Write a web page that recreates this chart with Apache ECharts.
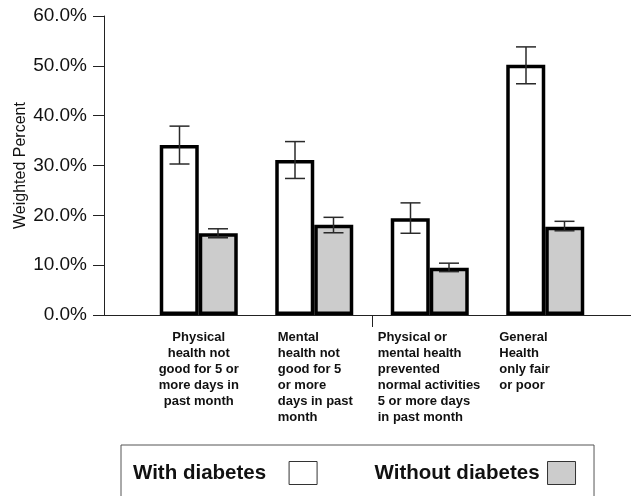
<!DOCTYPE html>
<html>
<head>
<meta charset="utf-8">
<script src="https://cdn.jsdelivr.net/npm/echarts@6/dist/echarts.min.js"></script>
<style>
  html, body { margin: 0; padding: 0; background: #ffffff; }
  #chart { width: 631px; height: 496px; }
</style>
</head>
<body>
<div id="chart"></div>
<script>
// Health indicators, weighted percent with 95% confidence limits
const categories = [
  ['Physical', 'health not', 'good for 5 or', 'more days in', 'past month'],
  ['Mental', 'health not', 'good for 5', 'or more', 'days in past', 'month'],
  ['Physical or', 'mental health', 'prevented', 'normal activities', '5 or more days', 'in past month'],
  ['General', 'Health', 'only fair', 'or poor']
];
const seriesNames = ['With diabetes', 'Without diabetes'];
const withDiabetes = [34.1, 31.1, 19.4, 50.2];
const withDiabetesLow = [30.3, 27.4, 16.4, 46.4];
const withDiabetesHigh = [37.9, 34.8, 22.5, 53.8];
const withoutDiabetes = [16.4, 18.1, 9.5, 17.7];
const withoutDiabetesLow = [15.5, 16.5, 8.7, 16.9];
const withoutDiabetesHigh = [17.3, 19.6, 10.4, 18.8];
const yTicks = [0, 10, 20, 30, 40, 50, 60];

// rich style key for each category label block
const labelStyleKeys = ['c', 'l2', 'l3', 'l4'];

const chart = echarts.init(document.getElementById('chart'), null, { renderer: 'canvas' });

const BAR_W = 39;
const HALF = 19.25;

function errorSeries(name, low, high, shift) {
  return {
    type: 'custom',
    name: name + ' CI',
    z: 5,
    silent: true,
    xAxisIndex: 0,
    data: low.map((l, i) => [i, l, high[i]]),
    encode: { x: 0, y: [1, 2] },
    renderItem: function (params, api) {
      const lo = api.coord([api.value(0), api.value(1)]);
      const hi = api.coord([api.value(0), api.value(2)]);
      const x = lo[0] + shift;
      const cap = 10;
      const st = { stroke: '#2a2a2a', lineWidth: 1.5 };
      return {
        type: 'group',
        children: [
          { type: 'line', shape: { x1: x, y1: lo[1], x2: x, y2: hi[1] }, style: st },
          { type: 'line', shape: { x1: x - cap, y1: lo[1], x2: x + cap, y2: lo[1] }, style: st },
          { type: 'line', shape: { x1: x - cap, y1: hi[1], x2: x + cap, y2: hi[1] }, style: st }
        ]
      };
    }
  };
}

const labelBase = { fontWeight: 'bold', fontSize: 13, lineHeight: 16, color: '#111' };

const option = {
  backgroundColor: '#ffffff',
  animation: false,
  textStyle: { fontFamily: 'Arial, "Liberation Sans", sans-serif' },
  grid: { left: 141, right: 28, top: 16, bottom: 181, containLabel: false },
  xAxis: [
    {
      type: 'category',
      data: categories.map((c, i) => i),
      boundaryGap: true,
      axisLine: { lineStyle: { color: '#222', width: 1 } },
      axisTick: { show: false },
      axisLabel: {
        interval: 0,
        margin: 14,
        color: '#111',
        fontWeight: 'bold',
        fontSize: 13,
        lineHeight: 16,
        align: 'center',
        formatter: function (v, idx) {
          const key = labelStyleKeys[idx];
          return categories[idx].map(s => '{' + key + '|' + s + '}').join('\n');
        },
        rich: {
          c: Object.assign({ width: 110, align: 'center' }, labelBase),
          l2: Object.assign({ width: 73, align: 'left' }, labelBase),
          l3: Object.assign({ width: 104, align: 'left' }, labelBase),
          l4: Object.assign({ width: 92, align: 'left' }, labelBase)
        }
      },
      splitLine: { show: false }
    },
    {
      // divider tick between the two pairs of categories
      type: 'value',
      position: 'bottom',
      min: 0,
      max: categories.length,
      axisLine: { show: false },
      axisLabel: { show: false },
      splitLine: { show: false },
      axisTick: { show: true, length: 12, customValues: [categories.length / 2], lineStyle: { color: '#222' } }
    }
  ],
  yAxis: {
    type: 'value',
    min: yTicks[0],
    max: yTicks[yTicks.length - 1],
    interval: 10,
    offset: 37,
    name: 'Weighted Percent',
    nameLocation: 'middle',
    nameGap: 75,
    nameMoveOverlap: false,
    nameTextStyle: { fontSize: 16, color: '#111' },
    axisLine: { show: true, onZero: false, lineStyle: { color: '#222', width: 1 } },
    axisTick: { show: true, length: 11, lineStyle: { color: '#222' } },
    axisLabel: { fontSize: 19, color: '#111', margin: 17, formatter: v => v.toFixed(1) + '%' },
    splitLine: { show: false }
  },
  legend: {
    left: 121,
    top: 445,
    orient: 'horizontal',
    align: 'right',
    padding: [16, 18, 20, 12],
    borderColor: '#555',
    borderWidth: 1,
    itemWidth: 28,
    itemHeight: 23,
    itemGap: 57,
    icon: 'rect',
    itemStyle: { borderWidth: 1, borderColor: '#333' },
    textStyle: { fontSize: 20.5, fontWeight: 'bold', color: '#111' },
    data: [
      { name: seriesNames[0], textStyle: { padding: [0, 18, 0, 0] } },
      { name: seriesNames[1], textStyle: { padding: [0, 3, 0, 0] } }
    ]
  },
  graphic: [
    // baseline continues past the category band on both sides
    { type: 'line', z: 1, shape: { x1: 104, y1: 315.5, x2: 631, y2: 315.5 }, style: { stroke: '#222', lineWidth: 1 } }
  ],
  series: [
    {
      type: 'bar',
      name: seriesNames[0],
      data: withDiabetes,
      barWidth: BAR_W,
      barGap: '0%',
      itemStyle: { color: '#ffffff', borderColor: '#000', borderWidth: 3.5 }
    },
    {
      type: 'bar',
      name: seriesNames[1],
      data: withoutDiabetes,
      barWidth: BAR_W,
      barGap: '0%',
      itemStyle: { color: '#cccccc', borderColor: '#000', borderWidth: 3.5 }
    },
    errorSeries(seriesNames[0], withDiabetesLow, withDiabetesHigh, -HALF),
    errorSeries(seriesNames[1], withoutDiabetesLow, withoutDiabetesHigh, HALF)
  ]
};

chart.setOption(option);
</script>
</body>
</html>
